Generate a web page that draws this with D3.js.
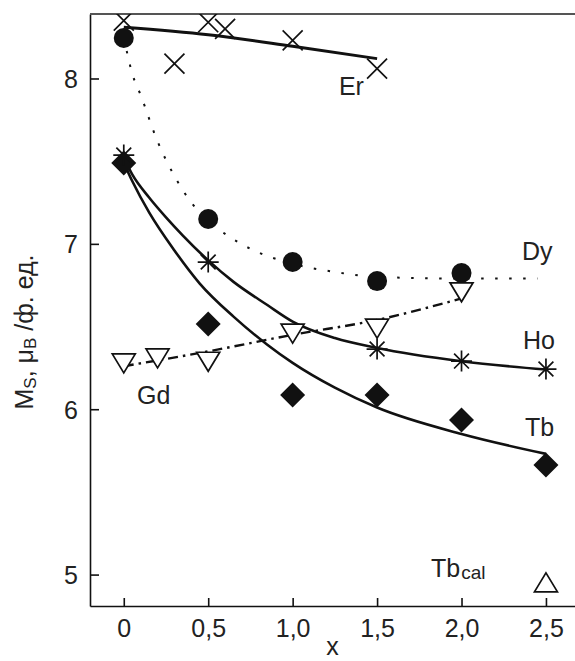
<!DOCTYPE html>
<html>
<head>
<meta charset="utf-8">
<script src="https://cdn.jsdelivr.net/npm/d3@7"></script>
<style>
  html, body { margin: 0; padding: 0; background: #fff; }
  svg { display: block; font-family: "Liberation Sans", Arial, Helvetica, sans-serif; }
</style>
</head>
<body>
<svg id="chart" width="575" height="661"></svg>
<script>
// Saturation magnetisation Ms of the rare-earth series versus x
const xTicks = [0, 0.5, 1.0, 1.5, 2.0, 2.5];
const xTickLabels = ["0", "0,5", "1,0", "1,5", "2,0", "2,5"];
const yTicks = [5, 6, 7, 8];
const yTickLabels = ["5", "6", "7", "8"];

// measured points
const erX = [0, 0.3, 0.5, 0.6, 1.0, 1.5];
const erY = [8.35, 8.09, 8.34, 8.30, 8.23, 8.06];
const dyX = [0, 0.5, 1.0, 1.5, 2.0];
const dyY = [8.245, 7.15, 6.89, 6.775, 6.824];
const hoX = [0, 0.5, 1.5, 2.0, 2.5];
const hoY = [7.537, 6.89, 6.364, 6.291, 6.243];
const tbX = [0, 0.5, 1.0, 1.5, 2.0, 2.5];
const tbY = [7.489, 6.516, 6.086, 6.086, 5.935, 5.663];
const gdX = [0, 0.2, 0.5, 1.0, 1.5, 2.0];
const gdY = [6.28, 6.31, 6.29, 6.46, 6.49, 6.71];
const tbCalX = [2.5];
const tbCalY = [4.95];

// fitted curves
const erFitX = [0, 0.5, 1.0, 1.5];
const erFitY = [8.31, 8.265, 8.195, 8.12];
const dyFitX = [0, 0.05, 0.1, 0.2, 0.3, 0.4, 0.5, 0.6, 0.75, 1.0, 1.25, 1.5, 2.0, 2.45];
const dyFitY = [8.25, 8.03, 7.90, 7.62, 7.41, 7.25, 7.14, 7.06, 6.97, 6.88, 6.83, 6.80, 6.79, 6.79];
const hoFitX = [0, 0.05, 0.15, 0.25, 0.35, 0.5, 0.65, 0.85, 1.0, 1.25, 1.5, 2.0, 2.5];
const hoFitY = [7.52, 7.42, 7.28, 7.16, 7.05, 6.90, 6.77, 6.63, 6.53, 6.43, 6.37, 6.29, 6.24];
const tbFitX = [0, 0.05, 0.15, 0.3, 0.45, 0.65, 0.85, 1.0, 1.25, 1.5, 2.0, 2.5];
const tbFitY = [7.49, 7.38, 7.19, 6.96, 6.76, 6.56, 6.39, 6.28, 6.13, 6.01, 5.85, 5.73];
const gdFitX = [0, 0.5, 1.0, 1.5, 2.0];
const gdFitY = [6.26, 6.35, 6.45, 6.54, 6.67];

const seriesNames = ["Er", "Dy", "Ho", "Tb", "Gd"];

const svg = d3.select("#chart");
const plotLeft = 90, plotRight = 575, plotTop = 14, plotBottom = 606;
const FONT = 25;

const x = d3.scaleLinear().domain([-0.2, 2.672]).range([plotLeft, plotRight]);
const y = d3.scaleLinear().domain([4.81, 8.39]).range([plotBottom, plotTop]);

const zip = (xs, ys) => xs.map((v, i) => [v, ys[i]]);

svg.append("defs").append("clipPath").attr("id", "plot-clip")
  .append("rect").attr("x", plotLeft).attr("y", plotTop)
  .attr("width", plotRight - plotLeft).attr("height", plotBottom - plotTop);

// axes with inward ticks
const yAxis = d3.axisLeft(y).tickValues(yTicks)
  .tickFormat((d, i) => yTickLabels[i]).tickSizeInner(-9).tickSizeOuter(0).tickPadding(12);
const xAxis = d3.axisBottom(x).tickValues(xTicks)
  .tickFormat((d, i) => xTickLabels[i]).tickSizeInner(-8).tickSizeOuter(0).tickPadding(13);

const gy = svg.append("g").attr("transform", `translate(${plotLeft},0)`).call(yAxis);
const gx = svg.append("g").attr("transform", `translate(0,${plotBottom})`).call(xAxis);
[gx, gy].forEach(g => {
  g.selectAll("path.domain").attr("stroke", "#111").attr("stroke-width", 1.6);
  g.selectAll(".tick line").attr("stroke", "#111").attr("stroke-width", 1.6);
  g.selectAll(".tick text").attr("fill", "#222")
    .style("font-size", FONT + "px").style("font-family", "'Liberation Sans', Arial, sans-serif");
});
gy.selectAll(".tick text").attr("dy", "0.36em");

// top frame line
svg.append("line").attr("x1", plotLeft).attr("x2", plotRight).attr("y1", plotTop).attr("y2", plotTop)
  .attr("stroke", "#555").attr("stroke-width", 2);

const plot = svg.append("g").attr("clip-path", "url(#plot-clip)");

const line = d3.line().x(d => x(d[0])).y(d => y(d[1])).curve(d3.curveMonotoneX);

// fitted curves
plot.append("path").datum(zip(erFitX, erFitY)).attr("d", line)
  .attr("fill", "none").attr("stroke", "#111").attr("stroke-width", 3);
plot.append("path").datum(zip(dyFitX, dyFitY)).attr("d", line)
  .attr("fill", "none").attr("stroke", "#111").attr("stroke-width", 2)
  .attr("stroke-dasharray", "2.5,11.5");
plot.append("path").datum(zip(hoFitX, hoFitY)).attr("d", line)
  .attr("fill", "none").attr("stroke", "#111").attr("stroke-width", 2.6);
plot.append("path").datum(zip(tbFitX, tbFitY)).attr("d", line)
  .attr("fill", "none").attr("stroke", "#111").attr("stroke-width", 2.6);
plot.append("path").datum(zip(gdFitX, gdFitY)).attr("d", line)
  .attr("fill", "none").attr("stroke", "#111").attr("stroke-width", 2.4)
  .attr("stroke-dasharray", "10,5,2.5,5");

// markers
const crossPath = "M-10,-10L10,10M-10,10L10,-10";
const starPath = (() => {
  const r = 10.5, p = [];
  for (let k = 0; k < 4; k++) {
    const a = k * Math.PI / 4;
    p.push(`M${(-r * Math.cos(a)).toFixed(2)},${(-r * Math.sin(a)).toFixed(2)}L${(r * Math.cos(a)).toFixed(2)},${(r * Math.sin(a)).toFixed(2)}`);
  }
  return p.join("");
})();
const diamondPath = "M0,-12.5L12.5,0L0,12.5L-12.5,0Z";
const triDownPath = "M-11.5,-9L11.5,-9L0,10Z";
const triUpPath = "M-11.5,9L11.5,9L0,-10Z";

function markers(xs, ys, path, fill, stroke, sw) {
  plot.append("g").selectAll("path").data(zip(xs, ys)).join("path")
    .attr("transform", d => `translate(${x(d[0])},${y(d[1])})`)
    .attr("d", path).attr("fill", fill).attr("stroke", stroke).attr("stroke-width", sw)
    .attr("stroke-linejoin", "miter");
}
markers(gdX, gdY, triDownPath, "#fff", "#111", 1.7);
markers(erX, erY, crossPath, "none", "#111", 1.7);
plot.append("g").selectAll("circle").data(zip(dyX, dyY)).join("circle")
  .attr("cx", d => x(d[0])).attr("cy", d => y(d[1])).attr("r", 10).attr("fill", "#111");
markers(tbX, tbY, diamondPath, "#111", "none", 0);
markers(hoX, hoY, starPath, "none", "#111", 1.7);
markers(tbCalX, tbCalY, triUpPath, "#fff", "#111", 1.7);

// series labels (left edge, baseline) in data units
const labelPos = { Er: [1.274, 7.90], Dy: [2.358, 6.902], Ho: [2.364, 6.364], Tb: [2.376, 5.838], Gd: [0.078, 6.032] };
seriesNames.forEach(n => {
  svg.append("text").attr("x", x(labelPos[n][0])).attr("y", y(labelPos[n][1]))
    .attr("fill", "#222").style("font-size", FONT + "px").text(n);
});
const calLabel = svg.append("text").attr("x", x(1.819)).attr("y", y(4.985))
  .attr("fill", "#222").style("font-size", FONT + "px");
calLabel.append("tspan").text("Tb");
calLabel.append("tspan").attr("dx", 1).attr("dy", 2).style("font-size", "19px").text("cal");

// axis titles
svg.append("text").attr("x", (plotLeft + plotRight) / 2).attr("y", 655)
  .attr("text-anchor", "middle").attr("fill", "#222").style("font-size", FONT + "px").text("x");

const yt = svg.append("text").attr("transform", "translate(33,332) rotate(-90)")
  .attr("text-anchor", "middle").attr("fill", "#222").style("font-size", FONT + "px");
yt.append("tspan").text("M");
yt.append("tspan").attr("dy", 3).style("font-size", "17px").text("S");
yt.append("tspan").attr("dy", -3).text(", μ");
yt.append("tspan").attr("dy", 3).style("font-size", "17px").text("B");
yt.append("tspan").attr("dy", -3).text(" /ф. ед.");
</script>
</body>
</html>
